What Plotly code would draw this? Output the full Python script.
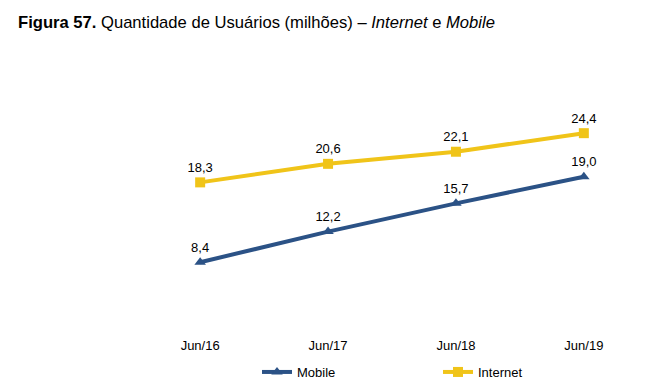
import plotly.graph_objects as go

categories = ["Jun/16", "Jun/17", "Jun/18", "Jun/19"]
internet = [18.3, 20.6, 22.1, 24.4]
mobile = [8.4, 12.2, 15.7, 19.0]

def fmt(v):
    return f"{v:.1f}".replace(".", ",")

fig = go.Figure()
fig.add_trace(go.Scatter(
    x=categories, y=mobile, name="Mobile", mode="lines+markers+text",
    line=dict(color="#2B5286", width=4),
    marker=dict(symbol="triangle-up", size=10, color="#2B5286"),
    text=[fmt(v) for v in mobile], textposition="top center",
    textfont=dict(family="Liberation Sans, Arial", size=13, color="#000000"),
))
fig.add_trace(go.Scatter(
    x=categories, y=internet, name="Internet", mode="lines+markers+text",
    line=dict(color="#F0C419", width=4),
    marker=dict(symbol="square", size=10, color="#F0C419"),
    text=[fmt(v) for v in internet], textposition="top center",
    textfont=dict(family="Liberation Sans, Arial", size=13, color="#000000"),
))

fig.update_layout(
    width=645, height=389,
    margin=dict(l=149, r=10, t=88, b=59, autoexpand=False),
    paper_bgcolor="white", plot_bgcolor="white",
    font=dict(family="Liberation Sans, Arial", size=13, color="#000000"),
    title=dict(
        text="<b>Figura 57.</b> Quantidade de Usuários (milhões) – <i>Internet</i> e <i>Mobile</i>",
        x=18/645, xanchor="left", xref="container",
        y=1-22/389, yanchor="middle", yref="container",
        pad=dict(t=0, b=0, l=0, r=0),
        font=dict(family="Liberation Sans, Arial", size=16.6, color="#000000"),
    ),
    xaxis=dict(range=[-0.4, 3.4], showgrid=False, zeroline=False, showline=False,
               ticks="", tickfont=dict(size=13), ticklabelstandoff=6, automargin=False),
    yaxis=dict(range=[0, 30], visible=False, automargin=False),
    showlegend=True,
    legend=dict(orientation="h", x=(257-149)/486, xanchor="left", y=-(372-330)/242, yanchor="middle",
                entrywidth=136, entrywidthmode="pixels",
                font=dict(size=13), itemwidth=30, tracegroupgap=0),
)

fig.write_html("out.html", config={"displayModeBar": False},
               post_script="document.body.style.margin='0';")
